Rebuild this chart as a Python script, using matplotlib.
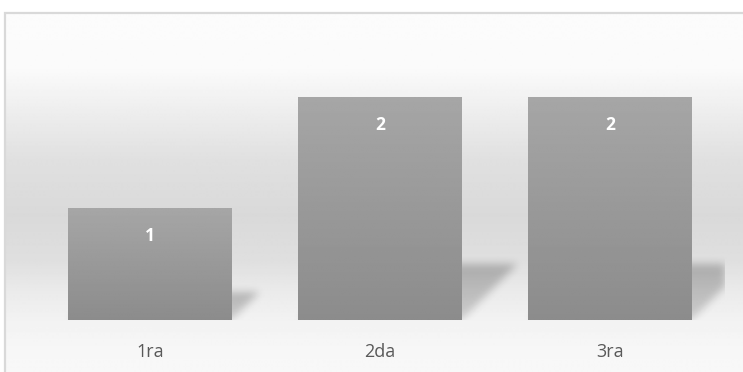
import numpy as np
import matplotlib
matplotlib.use("Agg")
import matplotlib.pyplot as plt
from matplotlib.patches import Rectangle

categories = ["1ra", "2da", "3ra"]
values = [1, 2, 2]

plt.rcParams['font.family'] = ['Open Sans', 'DejaVu Sans']

FW, FH = 743, 372
fig = plt.figure(figsize=(FW / 100, FH / 100), dpi=100)
fig.patch.set_facecolor("white")

# chart area background: gradient light -> grey band -> light
bgax = fig.add_axes([5 / FW, 0, 1 - 5 / FW, (FH - 12) / FH])
bgax.set_zorder(-5)
bgax.set_axis_off()
stops_px = [12, 70, 110, 160, 215, 260, 293, 320, 345, 372]   # pixel row from top
stops_c = [252, 250, 238, 224, 217, 223, 235, 242, 246, 248]
rows = np.arange(12, 373)
g = np.interp(rows, stops_px, stops_c) / 255.0
bgax.imshow(np.repeat(g[:, None], 2, axis=1), cmap="gray", vmin=0, vmax=1,
            extent=[0, 1, 0, 1], origin="upper", aspect="auto",
            interpolation="bilinear")

# chart border (right/bottom run off the picture)
fig.patches.append(Rectangle((5 / FW, -0.1), 1.2, (FH - 13) / FH + 0.1,
                             transform=fig.transFigure, fc="none",
                             ec="#d9d9d9", lw=1.6, zorder=5))

ax = fig.add_axes([35 / FW, 52 / FH, 690 / FW, 279 / FH])
ax.set_zorder(1)
ax.set_facecolor("none")
for s in ax.spines.values():
    s.set_visible(False)
ax.tick_params(axis="y", left=False, labelleft=False)
ax.tick_params(axis="x", bottom=False, pad=13)
ax.set_xticks(range(len(categories)))
ax.set_xticklabels(categories, fontsize=13, color="#595959")

# perspective shadows behind bars
W, H = 690, 279
width = 0.713
px = np.arange(W)[None, :] + 0.5
py = np.arange(H)[:, None] + 0.5
alpha = np.zeros((H, W))
for i, v in enumerate(values):
    xl = (i - width / 2 + 0.5) / 3 * W
    xr = (i + width / 2 + 0.5) / 3 * W
    hp = v / 2.5 * H
    sh = 0.25 * hp
    inside = (py <= sh) & (px >= xl + py * 1.0) & (px <= xr + py * 1.0)
    alpha = np.maximum(alpha, np.where(inside, 0.16 + 0.08 * py / sh, 0.0))
sig = 4.0
k = np.exp(-0.5 * (np.arange(-14, 15) / sig) ** 2)
k /= k.sum()
alpha = np.apply_along_axis(lambda r: np.convolve(r, k, mode="same"), 1, alpha)
alpha = np.apply_along_axis(lambda c: np.convolve(c, k, mode="same"), 0, alpha)
shadow = np.zeros((H, W, 4))
shadow[..., 3] = alpha
ax.imshow(shadow, extent=[-0.5, 2.5, 0, 2.5], origin="lower", aspect="auto",
          zorder=1, interpolation="bilinear")

# bars with vertical gradient
bars = ax.bar(range(len(values)), values, width=width, color="none",
              edgecolor="none", zorder=2)
grad = np.linspace(140, 166, 100)[:, None] / 255.0
for b, v in zip(bars, values):
    x0 = b.get_x()
    im = ax.imshow(np.repeat(grad, 2, axis=1), cmap="gray", vmin=0, vmax=1,
                   extent=[x0, x0 + b.get_width(), 0, v], origin="lower",
                   aspect="auto", zorder=2, interpolation="bilinear")
    im.set_clip_path(b)
    ax.annotate(str(v), (b.get_x() + b.get_width() / 2, v), xytext=(0, -20),
                textcoords="offset points", ha="center", va="center",
                color="white", fontsize=12.5, fontweight="bold", zorder=3)

ax.set_xlim(-0.5, 2.5)
ax.set_ylim(0, 2.5)

fig.savefig("out.png", dpi=100)
